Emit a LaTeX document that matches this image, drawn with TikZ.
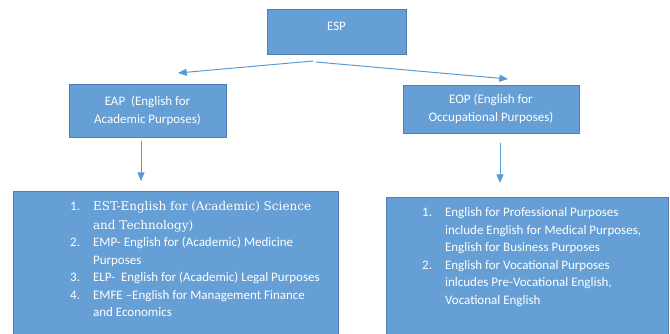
\documentclass[tikz,border=0pt]{standalone}
\usepackage{fontspec}
\setsansfont{Carlito}
\newfontfamily\estfont{DejaVu Serif}
\usetikzlibrary{arrows,positioning}

\definecolor{boxblue}{HTML}{659FD5}
\definecolor{boxline}{HTML}{4F7FAE}
\definecolor{linkblue}{HTML}{5B9BD5}

\tikzset{
  box/.style={draw=boxline,line width=0.8pt,fill=boxblue,text=white,inner sep=0pt,align=center},
  link/.style={draw=linkblue,line width=1pt,-triangle 45},
  listtext/.style={text=white,anchor=north west,inner sep=0pt,align=left}
}

\begin{document}
\begin{tikzpicture}[x=1pt,y=-1pt,font=\sffamily\fontsize{13}{18}\selectfont]
                \useasboundingbox (0,0) rectangle (670,333);
                % boxes
                \node[box,minimum width=139,minimum height=45,text depth=10pt] (esp) at (336.5,31.5) {ESP};
                \node[box,minimum width=157,minimum height=53] (eap) at (147.5,111) {EAP\ \ (English for\\Academic Purposes)};
                \node[box,minimum width=176,minimum height=48] (eop) at (491,109) {EOP (English for\\Occupational Purposes)};
                \node[box,minimum width=325,minimum height=143] (eapList) at (175.5,262.5) {};
                \node[box,minimum width=282,minimum height=137] (eopList) at (527,265.5) {};
                % arrows
                \coordinate (espL) at (313,61);
                \coordinate (espR) at (316,62);
                \coordinate (eapIn) at (178,73);
                \coordinate (eopIn) at (508,79);
                \coordinate (eapOut) at (141,141);
                \coordinate (eapListIn) at (141,181);
                \coordinate (eopOut) at (500,143);
                \coordinate (eopListIn) at (500,183);
                \draw[link] (espL) -- (eapIn);
                \draw[link] (espR) -- (eopIn);
                \draw[link] (eapOut) -- (eapListIn);
                \draw[link] (eopOut) -- (eopListIn);
                % list texts
                \node[listtext] (eapItems) at (70,198) {%
                  \begin{tabular}{@{}l@{\hspace{13pt}}l@{}}
                  \rule{0pt}{11pt}1. & {\estfont\fontsize{12}{18}\selectfont EST-English for (Academic) Science}\\[1pt]
                     & {\estfont\fontsize{12}{18}\selectfont and Technology)}\\[-1pt]
                  2. & EMP- English for (Academic) Medicine\\[-0.5pt]
                     & Purposes\\[-0.5pt]
                  3. & ELP-\ \ English for (Academic) Legal Purposes\\[-0.5pt]
                  4. & EMFE --English for Management Finance\\[-0.5pt]
                     & and Economics
                  \end{tabular}};
                \node[listtext] (eopItems) at (422,204) {%
                  \begin{tabular}{@{}l@{\hspace{13pt}}l@{}}
                  1. & English for Professional Purposes\\[-0.5pt]
                     & include English for Medical Purposes,\\[-0.5pt]
                     & English for Business Purposes\\[-0.5pt]
                  2. & English for Vocational Purposes\\[-0.5pt]
                     & inlcudes Pre-Vocational English,\\[-0.5pt]
                     & Vocational English
                  \end{tabular}};
            \end{tikzpicture}
\end{document}
